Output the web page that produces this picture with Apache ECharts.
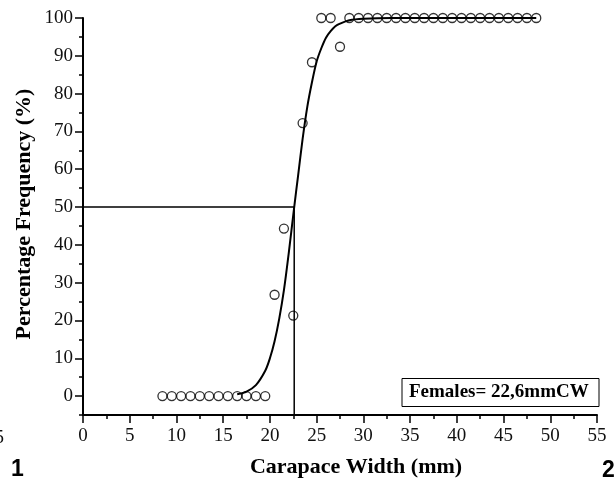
<!DOCTYPE html>
<html>
<head>
<meta charset="utf-8">
<script src="https://cdn.jsdelivr.net/npm/echarts@6/dist/echarts.min.js"></script>
<style>
html, body { margin: 0; padding: 0; background: #fff; }
#chartmain { width: 616px; height: 485px; }
</style>
</head>
<body>
<div id="chartmain"></div>
<script>
// observed points: carapace width (mm) vs % mature
var pointX = [8.5, 9.5, 10.5, 11.5, 12.5, 13.5, 14.5, 15.5, 16.5, 17.5, 18.5, 19.5,
    20.5, 21.5, 22.5, 23.5, 24.5, 25.5, 26.5, 27.5,
    28.5, 29.5, 30.5, 31.5, 32.5, 33.5, 34.5, 35.5, 36.5, 37.5, 38.5,
    39.5, 40.5, 41.5, 42.5, 43.5, 44.5, 45.5, 46.5, 47.5, 48.5];
var pointY = [0, 0, 0, 0, 0, 0, 0, 0, 0, 0, 0, 0,
    26.8, 44.3, 21.3, 72.2, 88.3, 100, 100, 92.4,
    100, 100, 100, 100, 100, 100, 100, 100, 100, 100, 100,
    100, 100, 100, 100, 100, 100, 100, 100, 100, 100];

// fitted curve
var curveX = [16.5, 17.5, 18.5, 19.5, 20.0, 20.5, 21.0, 21.5, 22.0, 22.6, 23.0, 23.5,
    24.0, 24.5, 25.0, 25.5, 26.0, 26.5, 27.0, 27.5, 28.5, 30.0, 33.0, 48.5];
var curveY = [0.5, 1.2, 2.9, 6.7, 10, 14.5, 20.5, 28, 37.5, 50, 58, 68,
    76.5, 83, 88.5, 92, 94.8, 96.5, 97.8, 98.5, 99.4, 99.8, 100, 100];

// size at 50% maturity
var cw50 = 22.6;
var refLine = [[0, 50], [cw50, 50], [cw50, -5]];

var yTickValues = [0, 10, 20, 30, 40, 50, 60, 70, 80, 90, 100];
var yMinorValues = [-5, 5, 15, 25, 35, 45, 55, 65, 75, 85, 95];

var serif = 'Liberation Serif';
var dom = document.getElementById('chartmain');
var chart = echarts.init(dom);

var option = {
    animation: false,
    backgroundColor: '#fff',
    grid: { left: 83, right: 19, top: 18, bottom: 70 },
    xAxis: {
        type: 'value',
        min: 0,
        max: 55,
        interval: 5,
        axisLine: { onZero: false, lineStyle: { color: '#000', width: 2 } },
        axisTick: { length: 8, lineStyle: { color: '#000', width: 1.5 } },
        minorTick: { show: true, splitNumber: 2, length: 4, lineStyle: { color: '#000', width: 1.5 } },
        axisLabel: { color: '#111', fontFamily: serif, fontSize: 19, margin: 12 },
        splitLine: { show: false }
    },
    yAxis: [{
        type: 'value',
        min: -5,
        max: 100,
        axisLine: { show: true, onZero: false, lineStyle: { color: '#000', width: 2 } },
        axisTick: { show: true, customValues: yTickValues, length: 8, lineStyle: { color: '#000', width: 1.5 } },
        axisLabel: { customValues: yTickValues, color: '#111', fontFamily: serif, fontSize: 19, margin: 10 },
        splitLine: { show: false }
    }, {
        type: 'value',
        min: -5,
        max: 100,
        position: 'left',
        axisLine: { show: false, onZero: false },
        axisTick: { show: true, customValues: yMinorValues, length: 4, lineStyle: { color: '#000', width: 1.5 } },
        axisLabel: { show: false },
        splitLine: { show: false }
    }],
    series: [
        {
            type: 'line',
            data: refLine,
            showSymbol: false,
            symbol: 'none',
            lineStyle: { color: '#000', width: 1.5 },
            z: 2
        },
        {
            type: 'line',
            data: curveX.map(function (x, i) { return [x, curveY[i]]; }),
            smooth: 0.3,
            symbol: 'none',
            lineStyle: { color: '#000', width: 2 },
            z: 3
        },
        {
            type: 'scatter',
            data: pointX.map(function (x, i) { return [x, pointY[i]]; }),
            symbol: 'circle',
            symbolSize: 9,
            itemStyle: { color: 'rgba(255,255,255,0)', borderColor: '#000', borderWidth: 1.3 },
            z: 4
        }
    ],
    graphic: [
        {
            type: 'text', x: 356, y: 467,
            style: { text: 'Carapace Width (mm)', font: 'bold 22px "Liberation Serif"', fill: '#000', align: 'center', verticalAlign: 'middle' }
        },
        {
            type: 'text', x: 24, y: 214, rotation: Math.PI / 2,
            style: { text: 'Percentage Frequency (%)', font: 'bold 22px "Liberation Serif"', fill: '#000', align: 'center', verticalAlign: 'middle' }
        },
        {
            type: 'rect',
            shape: { x: 402, y: 378.5, width: 197, height: 28 },
            style: { fill: '#fff', stroke: '#000', lineWidth: 1 },
            z: 10
        },
        {
            type: 'text', x: 409, y: 392.5, z: 11,
            style: { text: 'Females= 22,6mmCW', font: 'bold 19px "Liberation Serif"', fill: '#000', align: 'left', verticalAlign: 'middle' }
        },
        {
            type: 'text', x: 11, y: 470,
            style: { text: '1', font: 'bold 23px "Liberation Sans"', fill: '#000', align: 'left', verticalAlign: 'middle' }
        },
        {
            type: 'text', x: 602, y: 471,
            style: { text: '2', font: 'bold 23px "Liberation Sans"', fill: '#000', align: 'left', verticalAlign: 'middle' }
        },
        {
            type: 'text', x: 4, y: 438,
            style: { text: '55', font: '19px "Liberation Serif"', fill: '#111', align: 'right', verticalAlign: 'middle' }
        }
    ]
};

chart.setOption(option);
</script>
</body>
</html>
